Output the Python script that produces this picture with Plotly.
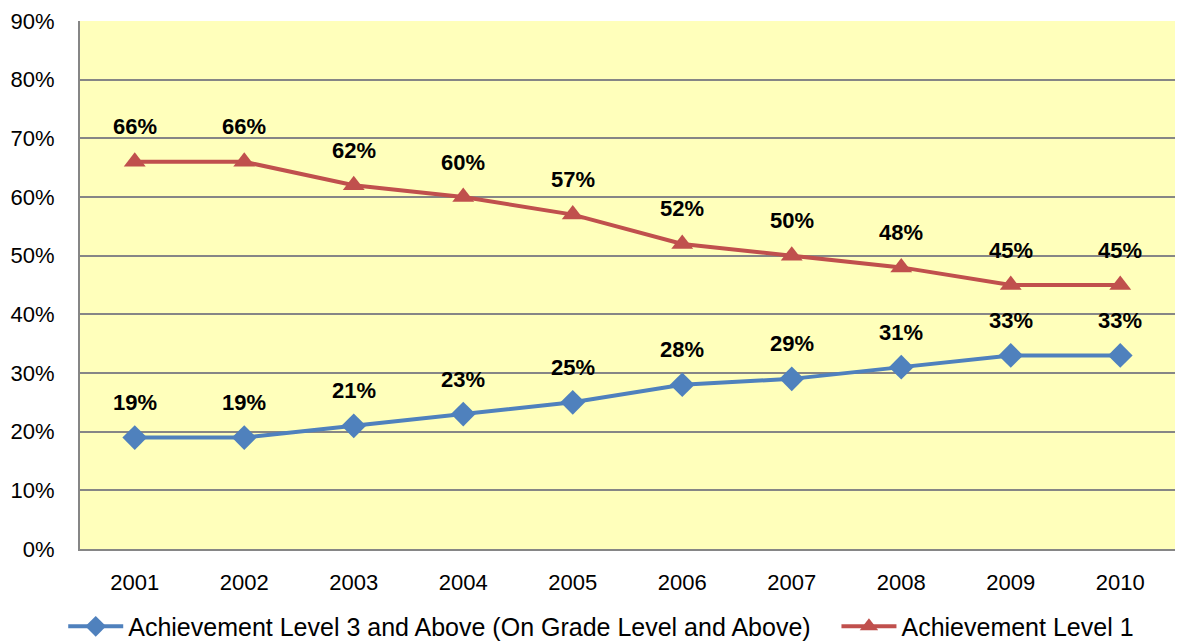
import plotly.graph_objects as go

years = ["2001", "2002", "2003", "2004", "2005", "2006", "2007", "2008", "2009", "2010"]
level3_above = [19, 19, 21, 23, 25, 28, 29, 31, 33, 33]
level1 = [66, 66, 62, 60, 57, 52, 50, 48, 45, 45]

blue = "#4F81BD"
red = "#C0504D"

fig = go.Figure()
fig.add_trace(go.Scatter(
    x=years, y=level3_above, mode="lines+markers",
    name="Achievement Level 3 and Above (On Grade Level and Above)&nbsp;&nbsp;&nbsp;",
    line=dict(color=blue, width=4),
    marker=dict(symbol="diamond", size=19, color=blue),
))
fig.add_trace(go.Scatter(
    x=years, y=level1, mode="lines+markers",
    name="Achievement Level 1",
    line=dict(color=red, width=4),
    marker=dict(symbol="triangle-up", size=19, color=red),
))

# value labels above each point (x given as category index)
for series in (level3_above, level1):
    for i, v in enumerate(series):
        fig.add_annotation(x=i, y=v, xref="x", yref="y", text=f"<b>{v}%</b>",
                           showarrow=False, yshift=35,
                           font=dict(size=22, color="black"))

fig.update_layout(
    width=1177, height=641,
    margin=dict(l=72, r=10, t=13, b=100),
    paper_bgcolor="white",
    plot_bgcolor="#FFFFBB",
    font=dict(family="Liberation Sans, Arial, sans-serif", size=22, color="black"),
    showlegend=True,
    legend=dict(orientation="h", xref="paper", yref="container",
                x=0.476, xanchor="center", y=0.035, yanchor="middle",
                font=dict(size=25), itemwidth=55, tracegroupgap=0),
)
fig.update_xaxes(
    type="category", range=[-0.5, 9.5], showgrid=False, automargin=False,
    showline=True, linecolor="#868686", linewidth=2, ticks="", ticklabelstandoff=13,
)
fig.update_yaxes(
    range=[0, 90], dtick=10, ticksuffix="%", automargin=False,
    showgrid=True, gridcolor="#868686", gridwidth=2,
    showline=True, linecolor="#868686", linewidth=2, zeroline=False, ticks="",
    ticklabelstandoff=19,
)

fig.write_html("out.html")
